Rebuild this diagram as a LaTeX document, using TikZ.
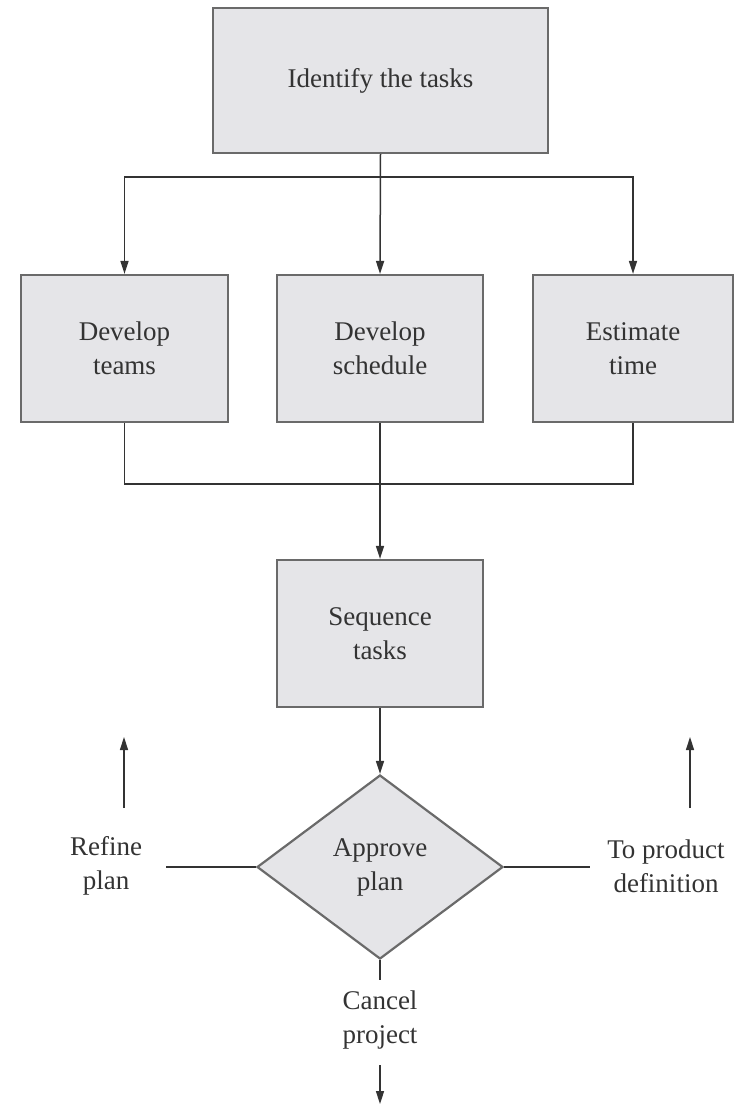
\documentclass[tikz,border=0pt]{standalone}
\usepackage{fontspec}
\setmainfont{Liberation Serif}
\usetikzlibrary{shapes.geometric,arrows.meta}
\definecolor{boxfill}{HTML}{E5E5E8}
\definecolor{boxline}{HTML}{6A6A6A}
\definecolor{ink}{HTML}{333333}
\begin{document}
\begin{tikzpicture}[x=1pt,y=-1pt,
  every node/.style={text=ink,font=\fontsize{27}{34}\selectfont,align=center},
  taskbox/.style={draw=boxline,fill=boxfill,line width=2.2pt,rectangle,inner sep=0pt},
  decision/.style={draw=boxline,fill=boxfill,line width=2.2pt,diamond,inner sep=0pt,
    minimum width=246pt,minimum height=184pt},
  conn/.style={draw=ink,line width=1.5pt},
  arr/.style={conn,-{Triangle[length=13pt,width=8pt]}},
  label/.style={inner sep=0pt}]
\useasboundingbox (0,0) rectangle (739,1104);

% task boxes
\node[taskbox,minimum width=335pt,minimum height=145pt] (ident) at (380.5,80.5) {Identify the tasks};
\node[taskbox,minimum width=207pt,minimum height=147pt] (teams) at (124.5,348.5) {Develop\\teams};
\node[taskbox,minimum width=206pt,minimum height=147pt] (sched) at (380,348.5) {Develop\\schedule};
\node[taskbox,minimum width=200pt,minimum height=147pt] (est) at (633,348.5) {Estimate\\time};
\node[taskbox,minimum width=206pt,minimum height=147pt] (seq) at (380,633.5) {Sequence\\tasks};
\node[decision] (appr) at (380,867) {Approve\\plan};

% outcome labels
\node[label] (refine) at (106,866) {Refine\\plan};
\node[label] (prod) at (666,866) {To product\\definition};
\node[label] (cancel) at (380,1020) {Cancel\\project};

% junction points and free ends
\coordinate (split) at (380,177);
\coordinate (merge) at (380,484);
\coordinate (lstub) at (166,867);
\coordinate (rstub) at (590,867);
\coordinate (bstub) at (380,980);
\coordinate (lup0) at (124,808);
\coordinate (lup1) at (124,737);
\coordinate (rup0) at (690,808);
\coordinate (rup1) at (690,737);
\coordinate (dn0) at (380,1065);
\coordinate (dn1) at (380,1104);

% fan out from the first task
\draw[arr] (ident.south) -- (sched.north);
\draw[arr] (split) -| (teams.north);
\draw[arr] (split) -| (est.north);

% fan in to sequencing
\draw[conn] (teams.south) |- (merge) -| (est.south);
\draw[arr] (sched.south) -- (seq.north);
\draw[arr] (seq.south) -- (appr.north);

% decision outcomes
\draw[conn] (appr.west) -- (lstub);
\draw[conn] (appr.east) -- (rstub);
\draw[conn] (appr.south) -- (bstub);
\draw[arr] (lup0) -- (lup1);
\draw[arr] (rup0) -- (rup1);
\draw[arr] (dn0) -- (dn1);
\end{tikzpicture}
\end{document}
